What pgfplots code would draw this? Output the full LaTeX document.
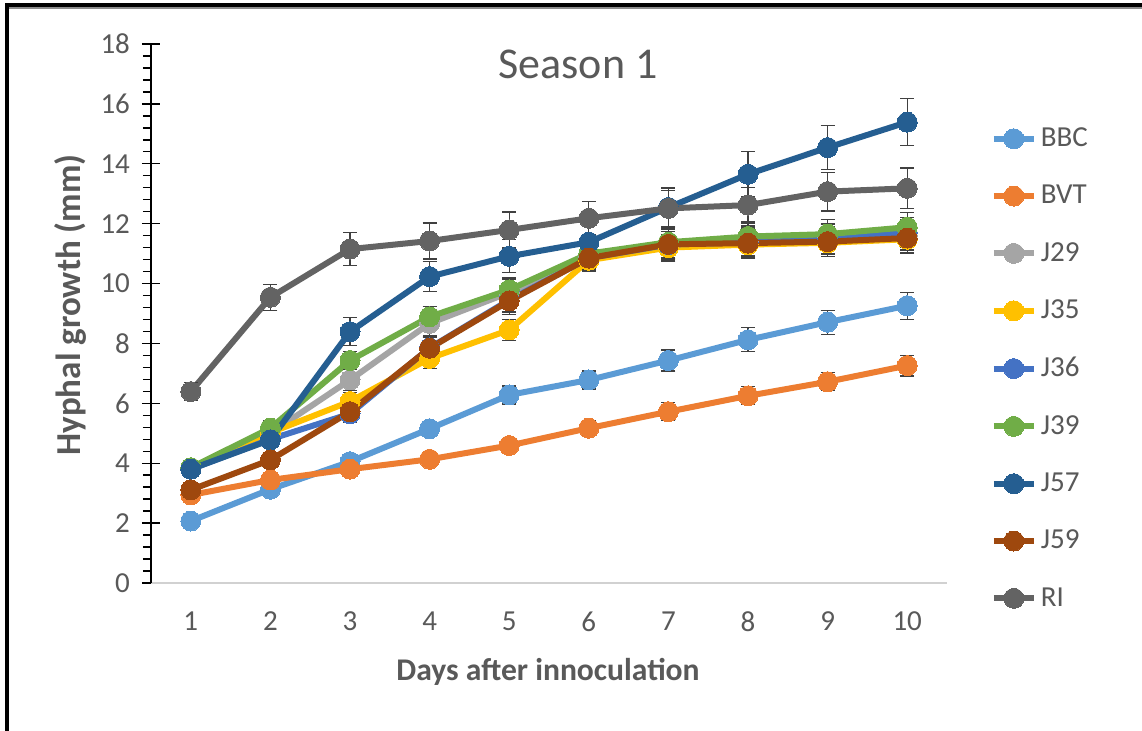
\documentclass[border=0pt]{standalone}
\usepackage{fontspec}
\setmainfont{Carlito}
\usepackage{pgfplots}
\pgfplotsset{compat=1.18}
\definecolor{cBBC}{HTML}{5B9BD5}
\definecolor{cBVT}{HTML}{ED7D31}
\definecolor{cJ29}{HTML}{A5A5A5}
\definecolor{cJ35}{HTML}{FFC000}
\definecolor{cJ36}{HTML}{4472C4}
\definecolor{cJ39}{HTML}{70AD47}
\definecolor{cJ57}{HTML}{255E91}
\definecolor{cJ59}{HTML}{9E480E}
\definecolor{cRI}{HTML}{636363}
\definecolor{txt}{HTML}{595959}
\definecolor{ebar}{HTML}{404040}
\pgfplotsset{
  ser/.style={color=#1, line width=3pt, mark=*, mark size=5pt,
    mark options={solid, fill=#1, draw=#1, line width=0pt},
    /pgfplots/error bars/y dir=both,
    /pgfplots/error bars/y explicit,
    /pgfplots/error bars/error bar style={line width=0.6pt, color=ebar},
    /pgfplots/error bars/error mark options={rotate=90, mark size=3.5pt, line width=0.6pt, color=ebar}}
}
\begin{document}
\begin{tikzpicture}
\useasboundingbox (0pt,0pt) rectangle (571pt,365.5pt);
\fill[white] (0pt,0pt) rectangle (571pt,365.5pt);
\draw[black, line width=2pt] (3.5pt,0pt) -- (3.5pt,363pt) -- (571pt,363pt);
\draw[black!45, line width=0.8pt] (4.5pt,361.6pt) -- (571pt,361.6pt);
\begin{axis}[at={(75.5pt,74pt)}, anchor=south west, scale only axis,
  width=398pt, height=269.5pt,
  xmin=0.5, xmax=10.5, ymin=0, ymax=18,
  xtick={1,...,10}, ytick={0,2,...,18},
  minor y tick num=4,
  axis x line*=bottom, axis y line*=left,
  x axis line style={draw=black!18, line width=0.8pt},
  y axis line style={draw=black, line width=0.8pt},
  xtick style={draw=none},
  ytick align=center,
  major tick length=9pt, minor tick length=4pt,
  major y tick style={black, line width=0.7pt},
  minor y tick style={black, line width=0.7pt, xshift=-2pt},
  /pgf/number format/assume math mode=true,
  ticklabel style={font=\fontsize{14.5}{16}\selectfont, text=txt},
  yticklabel style={xshift=-2.5pt},
  xticklabel style={yshift=-11pt},
  legend style={at={(1.047,0.86)}, anchor=north west, draw=none, fill=none,
    font=\fontsize{14.5}{17}\selectfont, text=txt, row sep=13.8pt,
    cells={anchor=west}},
  legend image code/.code={\draw[mark repeat=2, mark phase=2] plot coordinates {(0pt,0pt)(10pt,0pt)(20pt,0pt)};},
  clip=false,
]
\addplot[ser=cBBC] coordinates {(1,2.07)+-(0,0.15) (2,3.13)+-(0,0.2) (3,4.05)+-(0,0.2) (4,5.15)+-(0,0.25) (5,6.28)+-(0,0.3) (6,6.78)+-(0,0.3) (7,7.43)+-(0,0.35) (8,8.12)+-(0,0.4) (9,8.71)+-(0,0.4) (10,9.26)+-(0,0.45)};
\addlegendentry{BBC}
\addplot[ser=cBVT] coordinates {(1,2.94)+-(0,0.15) (2,3.44)+-(0,0.2) (3,3.80)+-(0,0.2) (4,4.13)+-(0,0.2) (5,4.59)+-(0,0.2) (6,5.17)+-(0,0.25) (7,5.72)+-(0,0.3) (8,6.25)+-(0,0.3) (9,6.72)+-(0,0.3) (10,7.26)+-(0,0.35)};
\addlegendentry{BVT}
\addplot[ser=cJ29] coordinates {(1,3.80)+-(0,0.2) (2,5.00)+-(0,0.25) (3,6.78)+-(0,0.35) (4,8.67)+-(0,0.4) (5,9.70)+-(0,0.45) (6,10.90)+-(0,0.4) (7,11.28)+-(0,0.45) (8,11.42)+-(0,0.5) (9,11.50)+-(0,0.5) (10,11.62)+-(0,0.5)};
\addlegendentry{J29}
\addplot[ser=cJ35] coordinates {(1,3.80)+-(0,0.2) (2,5.02)+-(0,0.25) (3,6.06)+-(0,0.3) (4,7.50)+-(0,0.35) (5,8.45)+-(0,0.35) (6,10.78)+-(0,0.35) (7,11.20)+-(0,0.45) (8,11.30)+-(0,0.45) (9,11.36)+-(0,0.45) (10,11.48)+-(0,0.45)};
\addlegendentry{J35}
\addplot[ser=cJ36] coordinates {(1,3.80)+-(0,0.2) (2,4.80)+-(0,0.25) (3,5.65)+-(0,0.3) (4,7.85)+-(0,0.35) (5,9.45)+-(0,0.4) (6,10.85)+-(0,0.4) (7,11.30)+-(0,0.45) (8,11.38)+-(0,0.5) (9,11.46)+-(0,0.5) (10,11.70)+-(0,0.5)};
\addlegendentry{J36}
\addplot[ser=cJ39] coordinates {(1,3.85)+-(0,0.2) (2,5.17)+-(0,0.25) (3,7.43)+-(0,0.3) (4,8.89)+-(0,0.35) (5,9.79)+-(0,0.4) (6,11.00)+-(0,0.4) (7,11.38)+-(0,0.45) (8,11.57)+-(0,0.5) (9,11.65)+-(0,0.5) (10,11.88)+-(0,0.5)};
\addlegendentry{J39}
\addplot[ser=cJ57] coordinates {(1,3.80)+-(0,0.2) (2,4.78)+-(0,0.25) (3,8.39)+-(0,0.47) (4,10.23)+-(0,0.5) (5,10.91)+-(0,0.55) (6,11.38)+-(0,0.6) (7,12.54)+-(0,0.65) (8,13.65)+-(0,0.75) (9,14.54)+-(0,0.73) (10,15.39)+-(0,0.78)};
\addlegendentry{J57}
\addplot[ser=cJ59] coordinates {(1,3.11)+-(0,0.2) (2,4.11)+-(0,0.25) (3,5.72)+-(0,0.3) (4,7.84)+-(0,0.4) (5,9.42)+-(0,0.45) (6,10.85)+-(0,0.45) (7,11.31)+-(0,0.5) (8,11.35)+-(0,0.5) (9,11.40)+-(0,0.5) (10,11.52)+-(0,0.5)};
\addlegendentry{J59}
\addplot[ser=cRI] coordinates {(1,6.39)+-(0,0.3) (2,9.54)+-(0,0.44) (3,11.15)+-(0,0.55) (4,11.42)+-(0,0.6) (5,11.79)+-(0,0.6) (6,12.18)+-(0,0.55) (7,12.51)+-(0,0.6) (8,12.62)+-(0,0.6) (9,13.07)+-(0,0.65) (10,13.18)+-(0,0.68)};
\addlegendentry{RI}
\end{axis}
\node[text=txt, font=\fontsize{22}{26}\selectfont] at (289pt,333.5pt) {Season 1};
\node[rotate=90, text=txt, font=\bfseries\fontsize{17.5}{20}\selectfont] at (35pt,213pt) {Hyphal growth (mm)};
\node[text=txt, font=\bfseries\fontsize{15.8}{18}\selectfont] at (274pt,29.5pt) {Days after innoculation};
\end{tikzpicture}
\end{document}
